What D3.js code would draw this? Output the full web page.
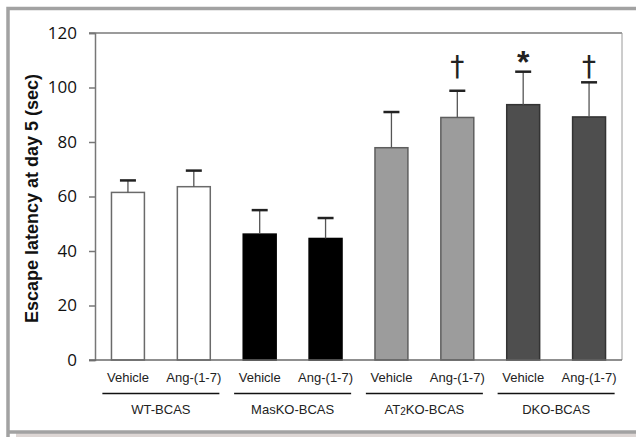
<!DOCTYPE html>
<html>
<head>
<meta charset="utf-8">
<script src="https://cdn.jsdelivr.net/npm/d3@7"></script>
<style>
  body { margin: 0; background: #fff; }
  svg { display: block; }
</style>
</head>
<body>
<svg id="chart" width="636" height="437"></svg>
<script>
// data
var treatments = ["Vehicle", "Ang-(1-7)", "Vehicle", "Ang-(1-7)", "Vehicle", "Ang-(1-7)", "Vehicle", "Ang-(1-7)"];
var groups = ["WT-BCAS", "MasKO-BCAS", "AT2KO-BCAS", "DKO-BCAS"];
var means = [61.5, 63.6, 46.2, 44.6, 77.9, 89.0, 93.7, 89.2];
var errTop = [65.9, 69.5, 55.0, 52.1, 91.0, 98.8, 105.8, 101.9];
var marks = ["", "", "", "", "", "\u2020", "*", "\u2020"];
var yTicks = [0, 20, 40, 60, 80, 100, 120];

var groupFill = ["#ffffff", "#000000", "#9c9c9c", "#4e4e4e"];
var groupStroke = ["#6a6a6a", "#000000", "#5e5e5e", "#333333"];

var margin = {top: 33, right: 14, bottom: 77, left: 95},
    width = 636 - margin.left - margin.right,
    height = 437 - margin.top - margin.bottom;

var svg = d3.select("#chart");

// outer frame
svg.append("rect").attr("x", 16).attr("y", 433).attr("width", 620).attr("height", 4).attr("fill", "#ddd6d4");
svg.append("path")
    .attr("d", "M8,437 V8.5 H636 M8,432 H636")
    .attr("fill", "none").attr("stroke", "#a2a2a2").attr("stroke-width", 3.5);

var g = svg.append("g").attr("transform", "translate(" + margin.left + "," + margin.top + ")");

var x = d3.scaleBand().domain(d3.range(means.length)).range([0, width]).paddingInner(0.5).paddingOuter(0.25);
var y = d3.scaleLinear().domain([0, 120]).range([height, 0]);

// plot box top/right
g.append("line").attr("x1", -6).attr("x2", width).attr("y1", y(120)).attr("y2", y(120)).attr("stroke", "#7a7a7a").attr("stroke-width", 1.5);
g.append("line").attr("x1", width).attr("x2", width).attr("y1", y(120)).attr("y2", y(0)).attr("stroke", "#9a9a9a").attr("stroke-width", 1);

// y axis
var yAxis = g.append("g")
    .call(d3.axisLeft(y).tickValues(yTicks).tickSize(6).tickPadding(12));
yAxis.select(".domain").attr("stroke", "#777").attr("stroke-width", 1.5);
yAxis.selectAll(".tick line").attr("stroke", "#777").attr("stroke-width", 1.5);
yAxis.selectAll(".tick text").attr("font-family", "'Open Sans', sans-serif").attr("font-size", 17).attr("fill", "#111");

// bars
g.selectAll("rect.bar").data(means).enter().append("rect")
    .attr("class", "bar")
    .attr("x", function(d, i) { return x(i); })
    .attr("y", function(d) { return y(d); })
    .attr("width", x.bandwidth())
    .attr("height", function(d) { return y(0) - y(d); })
    .attr("fill", function(d, i) { return groupFill[Math.floor(i / 2)]; })
    .attr("stroke", function(d, i) { return groupStroke[Math.floor(i / 2)]; })
    .attr("stroke-width", 1.5);

// baseline
g.append("line").attr("x1", -6).attr("x2", width).attr("y1", y(0)).attr("y2", y(0)).attr("stroke", "#6a6a6a").attr("stroke-width", 1.5);

// error bars (upper only)
var cx = function(i) { return x(i) + x.bandwidth() / 2; };
g.selectAll("line.stem").data(errTop).enter().append("line")
    .attr("x1", function(d, i) { return cx(i); })
    .attr("x2", function(d, i) { return cx(i); })
    .attr("y1", function(d) { return y(d); })
    .attr("y2", function(d, i) { return y(means[i]); })
    .attr("stroke", "#555").attr("stroke-width", 1.3);
g.selectAll("line.cap").data(errTop).enter().append("line")
    .attr("x1", function(d, i) { return cx(i) - 8; })
    .attr("x2", function(d, i) { return cx(i) + 8; })
    .attr("y1", function(d) { return y(d); })
    .attr("y2", function(d) { return y(d); })
    .attr("stroke", "#222").attr("stroke-width", 2.5);

// significance marks
g.selectAll("text.mark").data(marks).enter().append("text")
    .attr("x", function(d, i) { return cx(i); })
    .attr("y", function(d) { return d === "*" ? y(112) + 18 : y(112) + 21; })
    .attr("text-anchor", "middle")
    .attr("font-family", function(d) { return d === "*" ? "'Liberation Sans', Arial, sans-serif" : "'DejaVu Sans', sans-serif"; })
    .attr("font-weight", function(d) { return d === "*" ? "bold" : "normal"; })
    .attr("font-size", function(d) { return d === "*" ? 32 : 28; })
    .attr("fill", "#222")
    .text(function(d) { return d; });

// x labels
g.selectAll("text.treat").data(treatments).enter().append("text")
    .attr("x", function(d, i) { return cx(i); })
    .attr("y", height + 22)
    .attr("text-anchor", "middle")
    .attr("font-family", "'Liberation Sans', Arial, sans-serif")
    .attr("font-size", 13)
    .attr("fill", "#222")
    .text(function(d) { return d; });

var gx = function(j) { return (cx(2 * j) + cx(2 * j + 1)) / 2; };
g.selectAll("line.grp").data(groups).enter().append("line")
    .attr("x1", function(d, j) { return gx(j) - 58.5; })
    .attr("x2", function(d, j) { return gx(j) + 58.5; })
    .attr("y1", height + 33.5).attr("y2", height + 33.5)
    .attr("stroke", "#111").attr("stroke-width", 1.5);

var glab = g.selectAll("text.grp").data(groups).enter().append("text")
    .attr("x", function(d, j) { return gx(j); })
    .attr("y", height + 54)
    .attr("text-anchor", "middle")
    .attr("font-family", "'Liberation Sans', Arial, sans-serif")
    .attr("font-size", 13)
    .attr("fill", "#222");
glab.each(function(d) {
  var t = d3.select(this);
  if (d.indexOf("AT2") === 0) {
    t.append("tspan").text("AT");
    t.append("tspan").attr("font-size", 10).attr("dy", 1).text("2");
    t.append("tspan").attr("dy", -1).text(d.slice(3));
  } else {
    t.text(d);
  }
});

// y title
g.append("text")
    .attr("transform", "translate(" + (-57) + "," + (height / 2 + 2) + ") rotate(-90)")
    .attr("text-anchor", "middle")
    .attr("font-family", "'Liberation Sans', Arial, sans-serif")
    .attr("font-weight", "bold")
    .attr("font-size", 18)
    .attr("fill", "#111")
    .text("Escape latency at day 5 (sec)");
</script>
</body>
</html>
